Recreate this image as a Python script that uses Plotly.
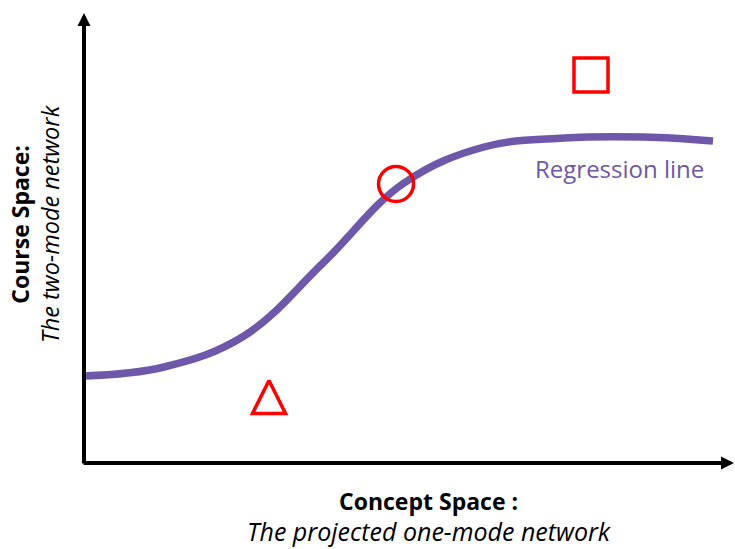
import plotly.graph_objects as go

# Regression curve (concept space vs course space), in axis units (origin at the axes corner)
curve_x = [0, 80, 160, 240, 320, 400, 480, 560, 629]
curve_y = [87, 96, 127, 201, 280, 316, 325, 326, 322]

# Observations
circle_pt = (312, 279)
square_pt = (507, 388)
triangle_pt = (185, 66)
triangle_w = 33
triangle_h = 33

x_label_1 = "Concept Space :"
x_label_2 = "The projected one-mode network"
y_label_1 = "Course Space:"
y_label_2 = "The two-mode network"
curve_label = "Regression line"

PURPLE = "#6f57a9"
RED = "#ff0000"
FONT = "Open Sans"

fig = go.Figure()

fig.add_trace(go.Scatter(
    x=curve_x, y=curve_y, mode="lines",
    line=dict(color=PURPLE, width=7.5, shape="spline", smoothing=1.1),
    hoverinfo="skip", showlegend=False))

fig.add_trace(go.Scatter(
    x=[circle_pt[0]], y=[circle_pt[1]], mode="markers",
    marker=dict(symbol="circle-open", size=35, color=RED, line=dict(color=RED, width=3.5)),
    hoverinfo="skip", showlegend=False))

fig.add_trace(go.Scatter(
    x=[square_pt[0]], y=[square_pt[1]], mode="markers",
    marker=dict(symbol="square-open", size=34, color=RED, line=dict(color=RED, width=3.5)),
    hoverinfo="skip", showlegend=False))

tx, ty = triangle_pt
fig.add_trace(go.Scatter(
    x=[tx - triangle_w / 2, tx, tx + triangle_w / 2, tx - triangle_w / 2, tx],
    y=[ty - triangle_h / 2, ty + triangle_h / 2, ty - triangle_h / 2, ty - triangle_h / 2, ty + triangle_h / 2],
    mode="lines", line=dict(color=RED, width=3.5), showlegend=False, hoverinfo="skip"))

# Axes with arrowheads
fig.add_annotation(x=0, y=450, ax=0, ay=-2, xref="x", yref="y", axref="x", ayref="y",
                   text="", showarrow=True, arrowhead=2, arrowsize=0.65, arrowwidth=4,
                   arrowcolor="black", standoff=0)
fig.add_annotation(x=650, y=0, ax=-2, ay=0, xref="x", yref="y", axref="x", ayref="y",
                   text="", showarrow=True, arrowhead=2, arrowsize=0.65, arrowwidth=4,
                   arrowcolor="black", standoff=0)

fig.add_annotation(x=535, y=295, xref="x", yref="y", text=curve_label, showarrow=False,
                   font=dict(family=FONT, size=24, color=PURPLE))

fig.add_annotation(x=345, y=0, xref="x", yref="paper", yanchor="bottom", yshift=-1,
                   text=("<b><span style='font-size:23px'>" + x_label_1 + "</span></b><br>"
                         "<i><span style='font-size:25px'>" + x_label_2 + "</span></i>"),
                   showarrow=False, font=dict(family=FONT, size=23.5, color="black"))
fig.add_annotation(x=-49, y=239, xref="x", yref="y",
                   text=("<b>" + y_label_1 + "</b><br>"
                         "<i><span style='font-size:23.5px'>" + y_label_2 + "</span></i>"),
                   showarrow=False, textangle=-90, font=dict(family=FONT, size=23, color="black"))

fig.update_layout(
    width=735, height=549, margin=dict(l=0, r=0, t=0, b=0),
    paper_bgcolor="white", plot_bgcolor="white",
    xaxis=dict(range=[-84, 651], visible=False, fixedrange=True),
    yaxis=dict(range=[-86, 463], visible=False, fixedrange=True),
)

# remove the page's default 8px body margin so the 735x549 figure fills the window
fig.write_html("out.html", config={"displayModeBar": False},
               post_script="document.body.style.margin='0';document.body.style.overflow='hidden';")
